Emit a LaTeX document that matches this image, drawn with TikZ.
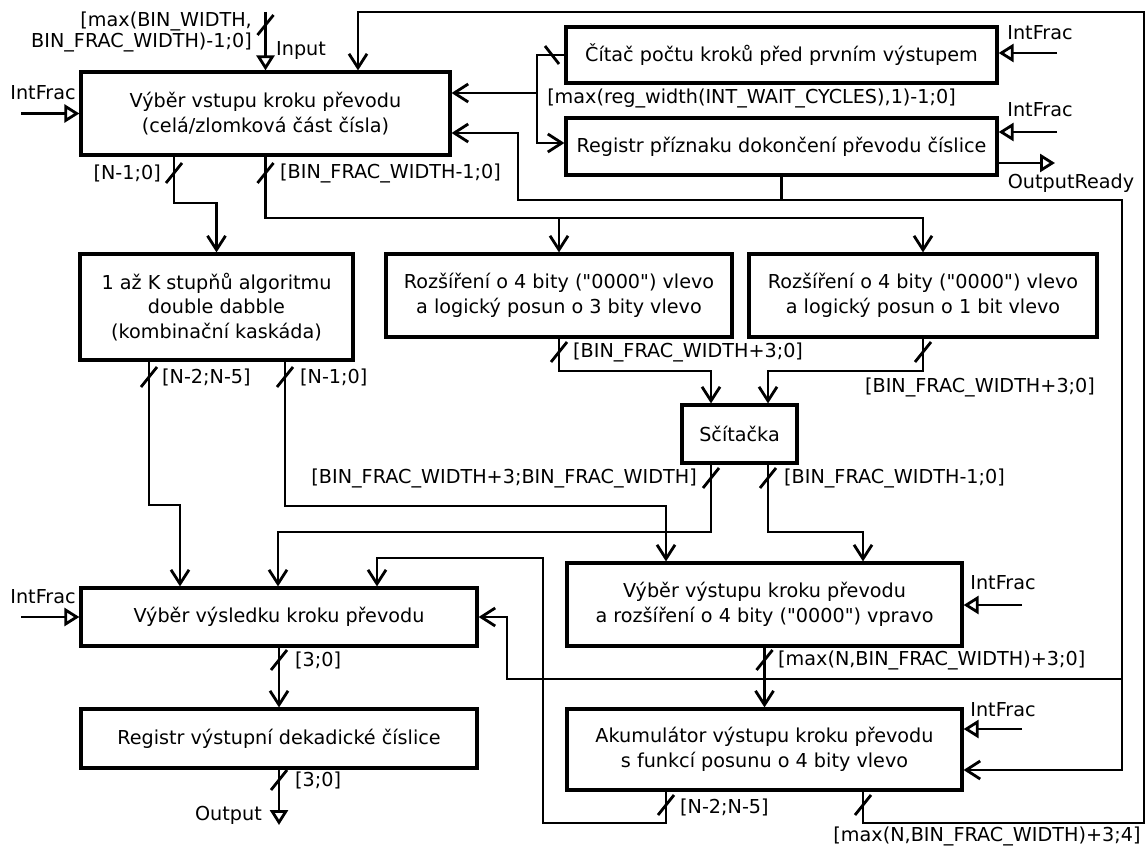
\documentclass[tikz,border=0pt]{standalone}
\usepackage{fontspec}
\setmainfont{DejaVu Sans}
\usetikzlibrary{arrows.meta}

\tikzset{
  block/.style={draw, line width=3.2pt, align=center, inner sep=0pt},
  wire/.style={line width=2.8pt},
  dat/.style={wire, -{Straight Barb[length=14pt,width=18pt]}},
  sig/.style={wire, -{Triangle[open,length=15pt,width=18pt]}},
  lbl/.style={inner sep=0pt},
}
\newcommand{\busmark}[1]{\draw[wire] (#1) ++(-8,10) -- ++(16,-20);}
\newcommand{\qz}{\textquotedbl0000\textquotedbl}

\begin{document}
\begin{tikzpicture}[x=1pt,y=-1pt,
    every node/.style={font=\fontsize{19.2}{24.5}\selectfont}]
    \useasboundingbox (0,0) rectangle (1147,848);

    % bloky
    \node[block, minimum width=369pt, minimum height=83pt] (selin) at (265.5,113.5)
        {Výběr vstupu kroku převodu\\(celá/zlomková část čísla)};
    \node[block, minimum width=431pt, minimum height=56pt] (counter) at (781.5,55)
        {Čítač počtu kroků před prvním výstupem};
    \node[block, minimum width=431pt, minimum height=57pt] (flagreg) at (781.5,146.5)
        {Registr příznaku dokončení převodu číslice};
    \node[block, minimum width=273pt, minimum height=106pt] (dabble) at (216.5,307)
        {1 až K stupňů algoritmu\\double dabble\\(kombinační kaskáda)};
    \node[block, minimum width=346pt, minimum height=83pt] (ext3) at (559,295.5)
        {Rozšíření o 4 bity (\qz) vlevo\\a logický posun o 3 bity vlevo};
    \node[block, minimum width=348pt, minimum height=83pt] (ext1) at (923,295.5)
        {Rozšíření o 4 bity (\qz) vlevo\\a logický posun o 1 bit vlevo};
    \node[block, minimum width=115pt, minimum height=58pt] (adder) at (739.5,434)
        {Sčítačka};
    \node[block, minimum width=396pt, minimum height=58pt] (ressel) at (279,617)
        {Výběr výsledku kroku převodu};
    \node[block, minimum width=395pt, minimum height=83pt] (outsel) at (764.5,604.5)
        {Výběr výstupu kroku převodu\\a rozšíření o 4 bity (\qz) vpravo};
    \node[block, minimum width=396pt, minimum height=59pt] (outreg) at (279,738.5)
        {Registr výstupní dekadické číslice};
    \node[block, minimum width=395pt, minimum height=81pt] (accum) at (764.5,749.5)
        {Akumulátor výstupu kroku převodu\\s funkcí posunu o 4 bity vlevo};

    % vstup
    \coordinate (inp) at (265.5,12);
    \draw[sig] (inp) -- (selin.north);
    \busmark{265.5,25}
    \node[lbl, anchor=east, align=right, font=\fontsize{19.2}{21.6}\selectfont] (inpw) at (252,32)
        {[max(BIN\_WIDTH,\\BIN\_FRAC\_WIDTH)-1;0]};
    \node[lbl, anchor=west] (inpn) at (276,50) {Input};
    \coordinate (ifa) at (21,113.5);
    \draw[sig] (ifa) -- (selin.west);
    \node[lbl] (ifal) at (43,93) {IntFrac};

    % zpetna vazba z akumulatoru
    \draw[dat] (863,0 |- accum.south) -- (863,823) -- (1144,823) -- (1144,12)
        -- (358,12) -- (358,0 |- selin.north);
    \busmark{863,805}
    \node[lbl] (fbl) at (987,836) {[max(N,BIN\_FRAC\_WIDTH)+3;4]};

    % citac
    \draw[dat] (counter.west) -- (537,55) -- (537,143) -- (flagreg.west |- 0,143);
    \draw[dat] (537,93) -- (selin.east |- 0,93);
    \draw[wire] (552,55) ++(-7,-9) -- ++(14,18);
    \node[lbl] (cntw) at (751.5,98) {[max(reg\_width(INT\_WAIT\_CYCLES),1)-1;0]};
    \coordinate (ifb) at (1057,53);
    \draw[sig] (ifb) -- (counter.east |- ifb);
    \node[lbl] (ifbl) at (1040,33) {IntFrac};
    \coordinate (ifc) at (1057,132);
    \draw[sig] (ifc) -- (flagreg.east |- ifc);
    \node[lbl] (ifcl) at (1040,110) {IntFrac};
    \coordinate (ordy) at (1055,163);
    \draw[sig] (flagreg.east |- ordy) -- (ordy);
    \node[lbl] (ordyl) at (1071,183) {OutputReady};

    % priznak dokonceni
    \draw[dat] (flagreg.south) -- (flagreg.south |- 0,200) -- (518,200) -- (518,133)
        -- (selin.east |- 0,133);
    \draw[dat] (flagreg.south |- 0,200) -- (1122,200) -- (1122,770) -- (accum.east |- 0,770);
    \draw[dat] (1122,679) -- (507,679) -- (507,617) -- (ressel.east);

    % vystupy vyberu vstupu
    \draw[dat] (174,0 |- selin.south) -- (174,203) -- (dabble.north |- 0,203) -- (dabble.north);
    \busmark{174,173}
    \node[lbl, anchor=east] (nl1) at (161,173) {[N-1;0]};
    \draw[dat] (265.5,0 |- selin.south) -- (265.5,218) -- (ext1.north |- 0,218) -- (ext1.north);
    \draw[dat] (ext3.north |- 0,218) -- (ext3.north);
    \busmark{265.5,173}
    \node[lbl, anchor=west] (bf1) at (280,173) {[BIN\_FRAC\_WIDTH-1;0]};

    % double dabble
    \draw[dat] (149,0 |- dabble.south) -- (149,505) -- (180,505) -- (180,0 |- ressel.north);
    \busmark{149,377}
    \node[lbl, anchor=west] (dn25) at (162,377) {[N-2;N-5]};
    \draw[dat] (285,0 |- dabble.south) -- (285,506) -- (666,506) -- (666,0 |- outsel.north);
    \busmark{285,377}
    \node[lbl, anchor=west] (dn10) at (300,377) {[N-1;0]};

    % rozsireni
    \draw[dat] (ext3.south) -- (ext3.south |- 0,371) -- (711,371) -- (711,0 |- adder.north);
    \busmark{559,352}
    \node[lbl, anchor=west] (e3l) at (573,352) {[BIN\_FRAC\_WIDTH+3;0]};
    \draw[dat] (ext1.south) -- (ext1.south |- 0,371) -- (768,371) -- (768,0 |- adder.north);
    \busmark{923,352}
    \node[lbl] (e1l) at (980,387) {[BIN\_FRAC\_WIDTH+3;0]};

    % scitacka
    \draw[dat] (711,0 |- adder.south) -- (711,532) -- (278,532) -- (278,0 |- ressel.north);
    \busmark{711,478}
    \node[lbl, anchor=east] (adh) at (697,478) {[BIN\_FRAC\_WIDTH+3;BIN\_FRAC\_WIDTH]};
    \draw[dat] (768,0 |- adder.south) -- (768,532) -- (863,532) -- (863,0 |- outsel.north);
    \busmark{768,478}
    \node[lbl, anchor=west] (adl) at (784,478) {[BIN\_FRAC\_WIDTH-1;0]};

    % vyber vysledku a vystup
    \coordinate (ifh) at (21,617);
    \draw[sig] (ifh) -- (ressel.west);
    \node[lbl] (ifhl) at (43,597) {IntFrac};
    \draw[dat] (ressel.south) -- (outreg.north);
    \busmark{279,660}
    \node[lbl, anchor=west] (r30) at (295,660) {[3;0]};
    \coordinate (outp) at (279,825);
    \draw[sig] (outreg.south) -- (outp);
    \busmark{279,780}
    \node[lbl, anchor=west] (o30) at (295,780) {[3;0]};
    \node[lbl, anchor=east] (outl) at (262,815) {Output};

    % vyber vystupu
    \coordinate (ifi) at (1022,605);
    \draw[sig] (ifi) -- (outsel.east |- ifi);
    \node[lbl] (ifil) at (1003,583) {IntFrac};
    \draw[dat] (outsel.south) -- (accum.north);
    \busmark{764.5,660}
    \node[lbl, anchor=west] (osl) at (778,660) {[max(N,BIN\_FRAC\_WIDTH)+3;0]};

    % akumulator
    \coordinate (ifk) at (1022,729);
    \draw[sig] (ifk) -- (accum.east |- ifk);
    \node[lbl] (ifkl) at (1003,710) {IntFrac};
    \draw[dat] (666,0 |- accum.south) -- (666,823) -- (543,823) -- (543,558) -- (377,558)
        -- (377,0 |- ressel.north);
    \busmark{666,805}
    \node[lbl, anchor=west] (acl) at (680,807) {[N-2;N-5]};
\end{tikzpicture}
\end{document}
